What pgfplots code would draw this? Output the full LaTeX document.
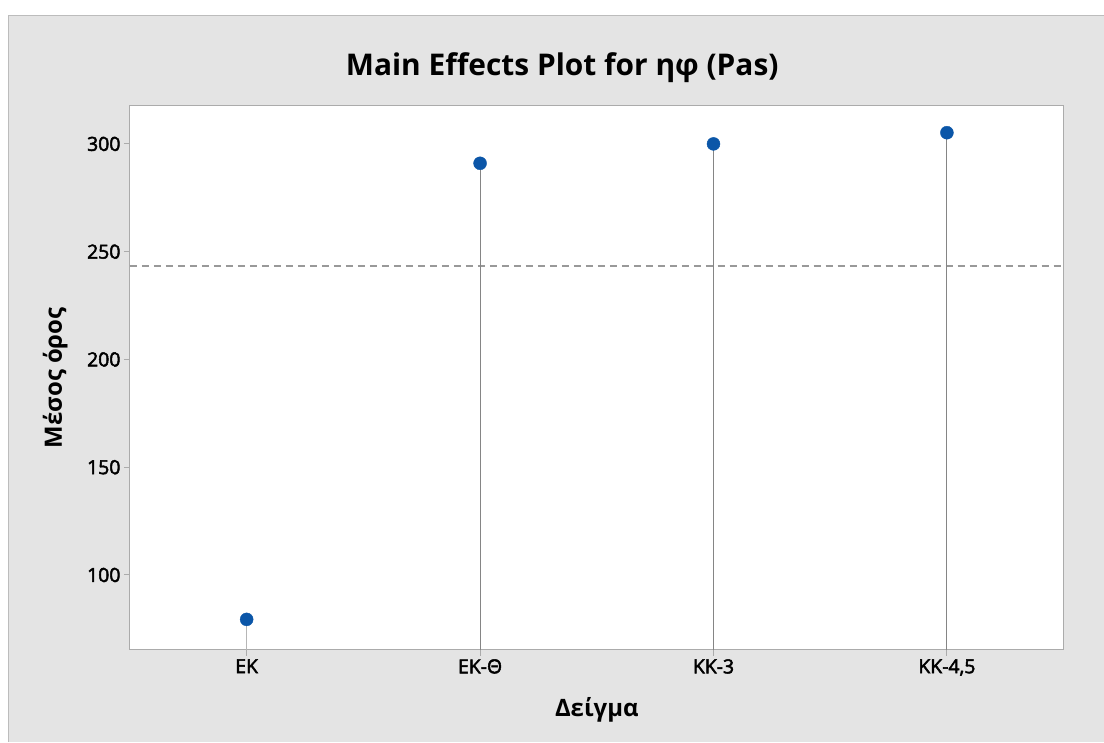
\documentclass[border=0pt]{standalone}
\usepackage{fontspec}
\setmainfont{Open Sans}
\newfontfamily\semib{Open Sans}[FakeBold=2.5]
\usepackage{pgfplots}
\pgfplotsset{compat=1.18}
\definecolor{bg}{HTML}{E4E4E4}
\definecolor{frame}{HTML}{ABABAB}
\definecolor{mblue}{HTML}{0B56A8}
\definecolor{stem}{HTML}{858585}
\definecolor{meanl}{HTML}{999999}
\begin{document}
\begin{tikzpicture}
\fill[white] (0bp,0bp) rectangle (1104bp,-742bp);
\fill[bg] (8bp,-15bp) rectangle (1104bp,-742bp);
\draw[frame!80,line width=0.8bp] (8bp,-742bp) -- (8bp,-15bp) -- (1104bp,-15bp);
\begin{axis}[
  at={(130bp,-650bp)}, anchor=south west,
  scale only axis, width=934bp, height=544bp,
  xmin=-0.5, xmax=3.5, ymin=65.3, ymax=317.6,
  xtick={0,1,2,3},
  xticklabels={ΕΚ,ΕΚ-Θ,ΚΚ-3,{ΚΚ-4,5}},
  ytick={100,150,200,250,300},
  /pgf/number format/assume math mode=true,
  axis background/.style={fill=white},
  axis line style={frame, line width=1bp},
  tick style={frame, line width=1bp},
  tick align=outside,
  major tick length=6bp,
  xtick pos=bottom, ytick pos=left,
  ticklabel style={font=\semib\fontsize{19.5}{19.5}\selectfont, text=black},
  xlabel={Δείγμα},
  ylabel={Μέσος όρος},
  xlabel style={font=\bfseries\fontsize{24}{24}\selectfont, at={(axis description cs:0.5,-0.110)}, anchor=center},
  ylabel style={font=\bfseries\fontsize{24}{24}\selectfont, at={(axis description cs:-0.080,0.5)}, anchor=center},
  title={Main Effects Plot for ηφ (Pas)},
  title style={font=\bfseries\fontsize{30}{30}\selectfont, at={(axis description cs:0.463,1.060)}, anchor=center},
]
\addplot[meanl, line width=1.8bp, dash pattern=on 7.5bp off 4.5bp, forget plot] coordinates {(-0.5,243.2) (3.5,243.2)};
\addplot[ycomb, stem!60, line width=1bp] coordinates {(0,79.4)};
\addplot[ycomb, stem, line width=1bp] coordinates {(1,291.0) (2,300.0) (3,305.2)};
\addplot[only marks, mark=*, mark size=6.5bp, mblue, mark options={draw=mblue, fill=mblue}] coordinates {(0,79.4) (1,291.0) (2,300.0) (3,305.2)};
\end{axis}
\end{tikzpicture}
\end{document}
